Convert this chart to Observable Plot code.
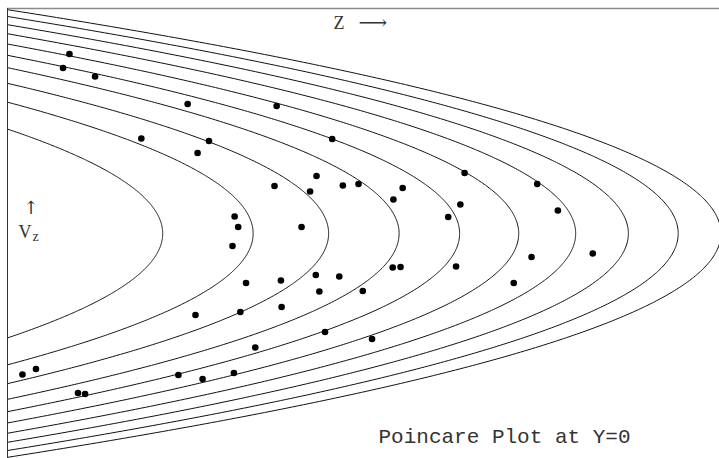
<!DOCTYPE html>
<html>
<head>
<meta charset="utf-8">
<script src="https://cdn.jsdelivr.net/npm/d3@7"></script>
<script src="https://cdn.jsdelivr.net/npm/@observablehq/plot@0.6"></script>
<style>
  html, body { margin: 0; padding: 0; background: #fff; }
  #chart svg { display: block; }
</style>
</head>
<body>
<div id="chart"></div>
<script>
// Energy contours E = z + vz^2/2, labelled by their turning point z (where vz = 0)
const turningZ = [2.18, 3.45, 4.51, 5.50, 6.35, 7.18, 7.98, 8.72, 9.42, 10.02];

// Crossings of the orbit through the section Y = 0
const crossZ = [
  0.87, 0.78, 1.23, 2.53, 1.88, 2.83, 2.67, 3.19, 3.24, 0.21,
  0.40, 0.99, 1.09, 3.16, 2.64, 3.27, 2.40, 2.74, 3.18, 3.78,
  4.56, 6.42, 3.75, 4.34, 4.25, 4.71, 4.93, 5.55, 5.42, 6.36,
  6.19, 4.13, 7.44, 7.73, 3.35, 3.84, 4.33, 4.66, 4.38, 4.99,
  3.85, 5.41, 5.52, 6.30, 4.46, 5.12, 3.48, 7.36, 8.22, 7.11
];
const crossVz = [
  3.59, 3.31, 3.14, 2.59, 1.90, 1.85, 1.61, 0.34, 0.13, -2.82,
  -2.71, -3.19, -3.21, -0.25, -1.63, -1.57, -2.83, -2.91, -2.79, 2.55,
  1.89, 1.21, 0.95, 1.15, 0.84, 0.96, 0.99, 0.91, 0.68, 0.58,
  0.33, 0.13, 0.99, 0.46, -0.99, -0.94, -0.83, -0.86, -1.16, -1.15,
  -1.47, -0.68, -0.67, -0.66, -1.97, -2.11, -2.28, -0.47, -0.40, -0.99
];

const zDomain = [0, 10];
const vzDomain = [-4.5, 4.5];

const zLabel = "Z";
const zArrow = "\u27F6";
const vzArrow = "\u2191";
const vzLabel = "V";
const vzSub = "z";
const title = "Poincare Plot at Y=0";

// Trace each contour z = E - vz^2/2 between its two crossings of z = 0
const contours = turningZ.flatMap((E, i) => {
  const vmax = Math.sqrt(2 * E);
  return d3.range(-200, 201).map(k => {
    const vz = (k / 200) * vmax;
    return {curve: i, vz, z: E - vz * vz / 2};
  });
});

const crossings = crossZ.map((z, i) => ({z, vz: crossVz[i]}));

const serif = "'Liberation Serif', 'DejaVu Serif', serif";
const label = (text, dx, dy, fontSize, fontFamily = serif) =>
  Plot.text([text], {frameAnchor: "top-left", dx, dy, lineAnchor: "bottom",
    textAnchor: "start", fontFamily, fontSize, fill: "#333"});

const chart = Plot.plot({
  width: 719,
  height: 458,
  marginLeft: 7,
  marginRight: 0,
  marginTop: 8,
  marginBottom: 0,
  x: {domain: zDomain, axis: null},
  y: {domain: vzDomain, axis: null},
  marks: [
    Plot.line(contours, {x: "z", y: "vz", z: "curve", stroke: "#111", strokeWidth: 1, clip: true}),
    Plot.dot(crossings, {x: "z", y: "vz", r: 3.3, fill: "#000", stroke: null}),
    Plot.ruleY([vzDomain[1]], {stroke: "#8a8a8a", strokeWidth: 1.5}),
    Plot.ruleX([zDomain[0]], {stroke: "#333", strokeWidth: 1}),
    label(zLabel, 326, 20, 18),
    label(zArrow, 351, 20, 20, "'DejaVu Serif', serif"),
    label(vzArrow, 16, 205, 18, "'DejaVu Serif', serif"),
    label(vzLabel, 11, 229, 18),
    label(vzSub, 25, 232, 14),
    label(title, 371, 434, 21, "'Liberation Mono', monospace")
  ]
});

document.getElementById("chart").appendChild(chart);
</script>
</body>
</html>
